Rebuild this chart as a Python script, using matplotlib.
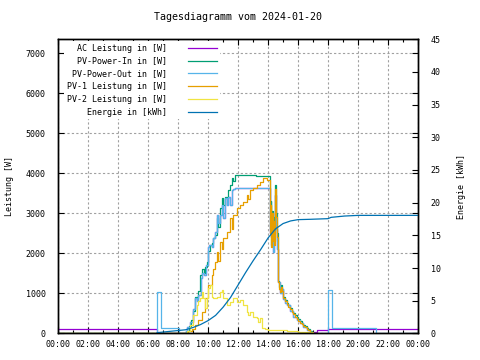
import numpy as np
import matplotlib
matplotlib.use('Agg')
import matplotlib.pyplot as plt
from matplotlib.ticker import MultipleLocator, FixedLocator

# hours of day, power in W, energy in kWh
pvin_t = [0.0, 8.55, 8.7, 8.85, 9.02, 9.13, 9.24, 9.36, 9.47, 9.58, 9.7, 9.8, 9.91, 10.02, 10.13,
          10.24, 10.36, 10.47, 10.58, 10.69, 10.8, 10.91, 11.02, 11.13, 11.24, 11.36, 11.47, 11.58,
          11.69, 11.8, 12.5, 13.2, 13.7, 14.13, 14.18, 14.22, 14.27, 14.31, 14.36, 14.42, 14.47,
          14.53, 14.58, 14.65, 14.69, 14.75, 14.8, 14.86, 14.91, 15.02, 15.13, 15.24, 15.35, 15.47,
          15.58, 15.69, 15.8, 15.91, 16.02, 16.13, 16.25, 16.36, 16.47, 16.58, 16.69, 16.8, 16.92, 17.0]
pvin_w = [0, 60, 180, 330, 560, 900, 880, 1050, 1450, 1600, 1500, 1650, 1780, 2050, 2200,
          2250, 2380, 2450, 2880, 2650, 3130, 3380, 3200, 3420, 3380, 3590, 3710, 3880,
          3800, 3960, 3950, 3930, 3920, 2600, 3300, 2200, 3050, 2400, 2900, 2300, 3700,
          3000, 2500, 1600, 1320, 1150, 1080, 1200, 1100, 920, 830, 770, 700, 640,
          570, 510, 450, 400, 350, 300, 260, 220, 180, 140, 100, 60, 20, 0]

pvout_t = [0.0, 6.62, 6.84, 8.07, 8.5, 8.58, 8.8, 9.02, 9.13, 9.25, 9.36, 9.5, 9.58, 9.73, 9.87,
           10.02, 10.09, 10.24, 10.36, 10.47, 10.58, 10.69, 10.8, 10.91, 11.02, 11.13, 11.24, 11.36,
           11.47, 11.58, 11.69, 11.8, 14.13, 14.2, 14.28, 14.36, 14.42, 14.47, 14.53, 14.6, 14.69,
           14.8, 14.91, 15.02, 15.13, 15.24, 15.47, 15.69, 15.91, 16.13, 16.36, 16.58, 16.8, 16.95,
           18.02, 18.24, 21.18, 24.0]
pvout_w = [0, 1040, 130, 0, 60, 170, 290, 620, 875, 800, 960, 1375, 1500, 1450, 1710,
           2165, 2210, 2160, 2375, 2540, 2960, 2750, 2960, 3210, 2880, 3375, 3210, 3420,
           3210, 3585, 3610, 3625, 2500, 2400, 3000, 2040, 2700, 3450, 2600, 2100, 1290,
           1000, 1100, 850, 760, 700, 560, 420, 330, 250, 170, 95, 40, 0,
           1080, 140, 0, 0]

# AC output follows PV-Power-Out during the day (hidden underneath it)
ac_t = [0.0, 6.62] + pvout_t[4:54] + [17.24, 18.02, 24.0]
ac_w = [100, 0] + pvout_w[4:53] + [40, 83, 100, 100]

pv1_t = [0.0, 8.45, 8.69, 8.91, 9.13, 9.36, 9.58, 9.8, 10.02, 10.24, 10.36, 10.47, 10.58, 10.69,
         10.8, 10.91, 11.02, 11.24, 11.47, 11.58, 11.69, 11.91, 12.13, 12.36, 12.58, 12.69, 12.8,
         13.02, 13.24, 13.47, 13.69, 13.91, 14.13, 14.18, 14.22, 14.27, 14.31, 14.36, 14.42, 14.47,
         14.53, 14.58, 14.65, 14.69, 14.75, 14.8, 14.86, 14.91, 15.02, 15.13, 15.24, 15.35, 15.47,
         15.58, 15.69, 15.8, 15.91, 16.02, 16.13, 16.25, 16.36, 16.47, 16.58, 16.69, 16.8, 16.92, 17.05, 17.3]
pv1_w = [0, 20, 60, 120, 210, 330, 540, 875, 1210, 1460, 1600, 1790, 2040, 1800,
         2290, 2100, 2375, 2540, 2875, 2600, 2960, 3125, 3210, 3290, 3460, 3350, 3585,
         3625, 3710, 3790, 3875, 3830, 2500, 3200, 2150, 3000, 2300, 2800, 2200, 3600,
         2900, 2400, 1550, 1280, 1100, 1040, 1150, 1060, 880, 800, 740, 670, 610,
         540, 480, 420, 370, 320, 270, 230, 190, 150, 110, 75, 40, 20, 10, 0]

pv2_t = [0.0, 8.44, 8.58, 8.8, 9.02, 9.24, 9.36, 9.47, 9.58, 9.69, 9.8, 9.91, 10.02, 10.13,
         10.24, 10.36, 10.58, 10.8, 10.91, 11.02, 11.24, 11.47, 11.69, 11.91, 12.13, 12.36, 12.58,
         12.69, 12.8, 13.02, 13.24, 13.36, 13.47, 13.58, 13.8, 14.02, 14.58, 15.24, 16.0, 16.8, 17.0]
pv2_w = [0, 20, 60, 210, 460, 710, 800, 875, 1040, 875, 625, 875, 1125, 1210,
         920, 875, 920, 1040, 1085, 875, 710, 790, 875, 790, 830, 710, 540,
         460, 540, 420, 375, 290, 375, 125, 100, 95, 83, 60, 30, 40, 0]

energy_t = [6.6, 7.0, 8.07, 8.5, 9.0, 9.5, 10.0, 10.5, 11.0, 11.5, 12.0, 12.5, 13.0, 13.5,
            14.0, 14.5, 15.0, 15.5, 16.0, 16.8, 18.0, 18.2, 19.1, 20.0, 24.0]
energy_kwh = [0.1, 0.2, 0.45, 0.55, 0.9, 1.35, 1.95, 2.75, 4.0, 5.5, 7.4, 9.3, 11.1, 12.8,
              14.6, 16.0, 16.8, 17.2, 17.4, 17.45, 17.55, 17.75, 17.95, 18.05, 18.05]

hour_labels = ['00:00', '02:00', '04:00', '06:00', '08:00', '10:00', '12:00',
               '14:00', '16:00', '18:00', '20:00', '22:00', '00:00']

plt.rcParams['font.family'] = ['DejaVu Sans Mono']
plt.rcParams['font.size'] = 6

fig = plt.figure(figsize=(4.8, 3.6), dpi=100)
ax = fig.add_axes([0.121, 0.074, 0.75, 0.817])
ax2 = ax.twinx()

lw = 0.9
h1, = ax.plot(ac_t, ac_w, color='#9400d3', lw=lw, drawstyle='steps-post', label='AC Leistung in [W]')
h2, = ax.plot(pvin_t, pvin_w, color='#009e73', lw=lw, drawstyle='steps-post', label='PV-Power-In in [W]')
h3, = ax.plot(pvout_t, pvout_w, color='#56b4e9', lw=lw, drawstyle='steps-post', label='PV-Power-Out in [W]')
h4, = ax.plot(pv1_t, pv1_w, color='#e69f00', lw=lw, drawstyle='steps-post', label='PV-1 Leistung in [W]')
h5, = ax.plot(pv2_t, pv2_w, color='#f0e442', lw=lw, drawstyle='steps-post', label='PV-2 Leistung in [W]')
h6, = ax2.plot(energy_t, energy_kwh, color='#0072b2', lw=lw, label='Energie in [kWh]')

ax.set_xlim(0, 24)
ax.set_ylim(0, 7350)
ax2.set_ylim(0, 45)

ax.xaxis.set_major_locator(FixedLocator(np.arange(0, 25, 2)))
ax.set_xticklabels(hour_labels)
ax.xaxis.set_minor_locator(MultipleLocator(1))
ax.yaxis.set_major_locator(MultipleLocator(1000))
ax2.yaxis.set_major_locator(MultipleLocator(5))

ax.tick_params(which='both', direction='in', top=True, right=True)
ax.tick_params(which='major', length=4, width=0.8)
ax.tick_params(which='minor', length=2, width=0.8)
ax.tick_params(axis='y', pad=9)
ax.tick_params(axis='x', pad=5)
ax2.tick_params(direction='in', length=4, width=0.8, pad=9)

ax.grid(True, which='major', color='#a0a0a0', linestyle=(0, (2, 2)), lw=0.8)
ax.set_axisbelow(True)
for a in (ax, ax2):
    for s in a.spines.values():
        s.set_linewidth(1.0)

ax.set_title('Tagesdiagramm vom 2024-01-20', pad=13.5)
ax.set_ylabel('Leistung [W]', labelpad=8)
ax2.set_ylabel('Energie [kWh]', labelpad=12)

leg = ax.legend(handles=[h1, h2, h3, h4, h5, h6], loc='upper left', bbox_to_anchor=(0.011, 1),
                markerfirst=False, frameon=True, fancybox=False, framealpha=1,
                facecolor='white', edgecolor='none', borderaxespad=0.2,
                handlelength=3.4, handletextpad=2.6, labelspacing=0.45, borderpad=0.35)
leg.set_zorder(5)

fig.savefig('out.png', dpi=100)
